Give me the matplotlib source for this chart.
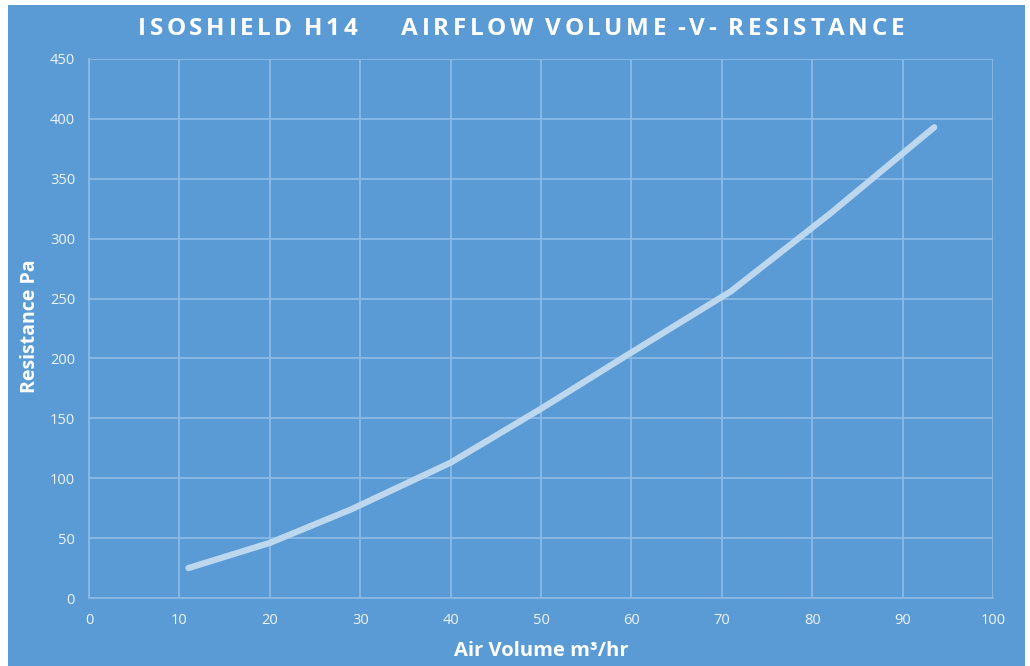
import matplotlib.pyplot as plt
from matplotlib.patches import Rectangle

# values
air_volume = [11, 20, 29, 40, 50, 60, 71, 82, 93.5]
resistance = [25, 46, 74, 113, 158, 205, 256, 321, 393]

x_ticks = list(range(0, 101, 10))
y_ticks = list(range(0, 451, 50))

title = "ISOSHIELD H14     AIRFLOW VOLUME -V- RESISTANCE"
x_label = "Air Volume m\u00b3/hr"
y_label = "Resistance Pa"

BG = "#5B9BD5"
GRID = "#8DBBE6"
LINE = "#BDD7EE"
TEXT = "#FFFFFF"
FONT = "Open Sans"
W, H = 1030, 666


def spaced_title(fig, text, cx, cy, spacing_px, space_px, **kw):
    # matplotlib has no letter-spacing, so lay out one char at a time
    renderer = fig.canvas.get_renderer()
    widths = []
    for ch in text:
        if ch == " ":
            widths.append(space_px)
            continue
        t = fig.text(0, 0, ch, **kw)
        widths.append(t.get_window_extent(renderer).width)
        t.remove()
    total = sum(widths) + spacing_px * (len(text) - 1)
    x = cx - total / 2
    for ch, w in zip(text, widths):
        if ch != " ":
            fig.text(x / W, cy, ch, ha="left", va="center", **kw)
        x += w + spacing_px


def main() -> None:
    fig = plt.figure(figsize=(W / 100, H / 100), dpi=100, facecolor="white")
    fig.patches.append(Rectangle((8 / W, 0), 1017 / W, 661 / H,
                                 transform=fig.transFigure, facecolor=BG,
                                 edgecolor="none", zorder=-10))

    ax = fig.add_axes([89 / W, 1 - 598 / H, 904 / W, 539 / H])
    ax.set_facecolor(BG)
    ax.plot(air_volume, resistance, color=LINE, lw=4.5,
            solid_capstyle="round", solid_joinstyle="round", zorder=3)

    ax.set_xlim(0, 100)
    ax.set_ylim(0, 450)
    ax.set_xticks(x_ticks)
    ax.set_yticks(y_ticks)
    ax.grid(True, color=GRID, lw=1.2)
    for s in ["top", "right"]:
        ax.spines[s].set_visible(False)
    for s in ["left", "bottom"]:
        ax.spines[s].set_color(GRID)
        ax.spines[s].set_linewidth(1.2)
    ax.tick_params(length=0, colors="#EEF4FB", labelsize=10.5)
    ax.tick_params(axis="x", pad=11)
    ax.tick_params(axis="y", pad=10)
    for lab in ax.get_xticklabels() + ax.get_yticklabels():
        lab.set_family(FONT)

    ax.set_xlabel(x_label, color=TEXT, fontsize=14.5, fontweight="bold",
                  family=FONT)
    ax.xaxis.set_label_coords((541 - 89) / 904, -(651 - 598) / 539)
    ax.xaxis.label.set_va("center")
    ax.set_ylabel(y_label, color=TEXT, fontsize=14, fontweight="bold",
                  family=FONT)
    ax.yaxis.set_label_coords(-(89 - 30) / 904, (598 - 326) / 539)
    ax.yaxis.label.set_va("center")

    spaced_title(fig, title, 521, 1 - 29 / H, 3.6, 4.5, color=TEXT,
                 fontsize=17.5, fontweight="bold", family=FONT)

    fig.savefig("out.png", dpi=100, facecolor=fig.get_facecolor())


if __name__ == "__main__":
    main()
